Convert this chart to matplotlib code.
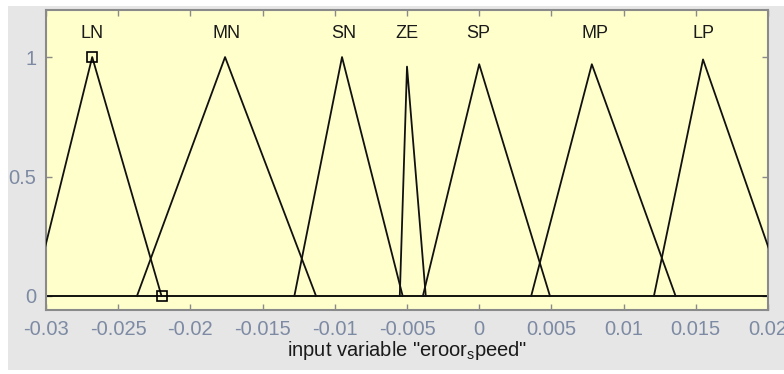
import matplotlib.pyplot as plt
from matplotlib.patches import Rectangle

plt.rcParams['font.family'] = ['Liberation Sans', 'DejaVu Sans']
plt.rcParams['mathtext.fontset'] = 'custom'
plt.rcParams['mathtext.rm'] = 'Liberation Sans'

# membership functions (triangle vertices)
mf_names = ['LN', 'MN', 'SN', 'ZE', 'SP', 'MP', 'LP']
mf_x = [
    [-0.0309, -0.0268, -0.0220],
    [-0.0237, -0.0176, -0.0113],
    [-0.0128, -0.0095, -0.0053],
    [-0.0055, -0.0050, -0.0037],
    [-0.0039, 0.0000, 0.0049],
    [0.0036, 0.0078, 0.0136],
    [0.0121, 0.0155, 0.0212],
]
mf_peak = [1.0, 1.0, 1.0, 0.96, 0.97, 0.97, 0.99]
label_x = [-0.02684, -0.0175, -0.0094, -0.0050, -0.0001, 0.0080, 0.0155]

x_ticks = [-0.03, -0.025, -0.02, -0.015, -0.01, -0.005, 0, 0.005, 0.01, 0.015, 0.02]
x_ticklabels = ['-0.03', '-0.025', '-0.02', '-0.015', '-0.01', '-0.005', '0',
                '0.005', '0.01', '0.015', '0.02']
y_ticks = [0, 0.5, 1]
y_ticklabels = ['0', '0.5', '1']

# selected MF handles (LN)
handle_x = [-0.02684, -0.0220]
handle_y = [1.0, 0.0]

fig = plt.figure(figsize=(7.84, 3.74), dpi=100)
fig.patch.set_facecolor('white')
fig.patches.append(Rectangle((8 / 784, 4 / 374), 1, 1 - 10 / 374,
                             transform=fig.transFigure, facecolor='#e6e6e6',
                             edgecolor='none', zorder=-10))

ax = fig.add_axes([46 / 784, 64 / 374, 722 / 784, 300 / 374])
ax.set_facecolor('#ffffcc')

ax.axhline(0, color='black', lw=1.3, zorder=2)
for name, xs, pk, lx in zip(mf_names, mf_x, mf_peak, label_x):
    ax.plot(xs, [0, pk, 0], color='#111111', lw=1.3, zorder=3)
    ax.text(lx, 1.10, name, ha='center', va='center', fontsize=13,
            color='#1a1a1a')

ax.plot(handle_x, handle_y, linestyle='none', marker='s', markersize=7,
        markerfacecolor='none', markeredgecolor='black', mew=1.2, zorder=4)

ax.set_xlim(-0.03, 0.02)
ax.set_ylim(-0.0586, 1.197)
ax.set_xticks(x_ticks)
ax.set_xticklabels(x_ticklabels)
ax.set_yticks(y_ticks)
ax.set_yticklabels(y_ticklabels)
ax.tick_params(direction='in', top=True, right=True, length=4, width=1,
               colors='#8a8a8a', labelcolor='#7d8aa3', labelsize=14.5, pad=7)
for sp in ax.spines.values():
    sp.set_color('#8a8a8a')
    sp.set_linewidth(1.5)

ax.set_xlabel('input variable "eroor$_\\mathrm{s}$peed"', fontsize=14.5,
              color='#1a1a1a', labelpad=0)

fig.savefig('out.png', dpi=100, facecolor=fig.get_facecolor())
